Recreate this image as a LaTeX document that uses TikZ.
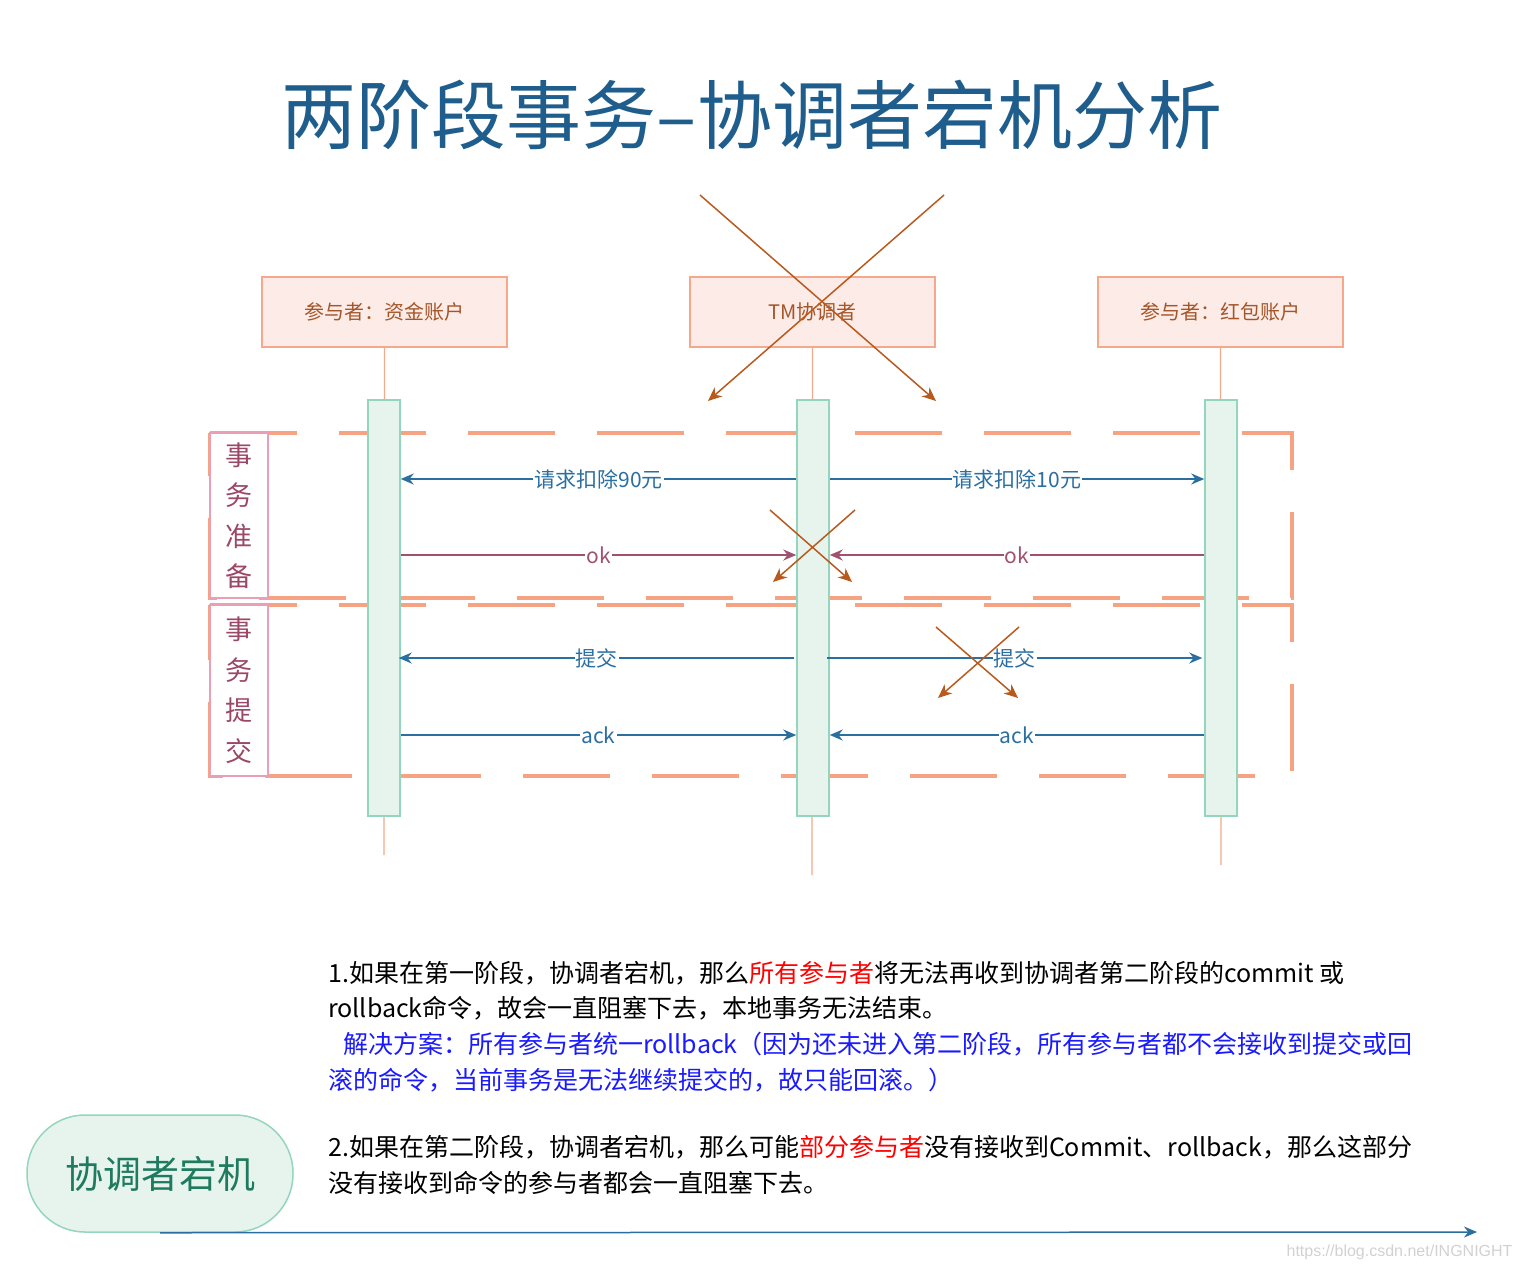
\documentclass[tikz,border=0pt]{standalone}
\usepackage{fontspec}
\setmainfont{Noto Sans CJK SC}
\newfontfamily\markfont{Liberation Sans}
\usetikzlibrary{arrows.meta}

\definecolor{titleblue}{RGB}{31,94,140}
\definecolor{actorfill}{RGB}{252,235,230}
\definecolor{actorline}{RGB}{245,169,140}
\definecolor{actortext}{RGB}{164,86,42}
\definecolor{barfill}{RGB}{231,244,238}
\definecolor{barline}{RGB}{148,214,189}
\definecolor{crosscol}{RGB}{184,90,30}
\definecolor{phasecol}{RGB}{245,163,131}
\definecolor{stageline}{RGB}{235,159,180}
\definecolor{stagetext}{RGB}{155,72,104}
\definecolor{msgblue}{RGB}{43,111,160}
\definecolor{okplum}{RGB}{160,81,111}
\definecolor{pilltext}{RGB}{31,123,95}
\definecolor{noteblue}{RGB}{26,26,255}

\tikzset{
  actor/.style={draw=actorline, fill=actorfill, line width=1.5pt, text=actortext,
    minimum width=245pt, minimum height=70pt, font=\fontsize{20}{24}\selectfont},
  life/.style={draw=actorline, line width=1.2pt},
  bar/.style={draw=barline, fill=barfill, line width=1.5pt,
    minimum width=32pt, minimum height=416pt, inner sep=0pt},
  phase/.style={draw=phasecol, line width=4pt, dash pattern=on 87pt off 42pt},
  stagebox/.style={draw=stageline, fill=white, line width=1.5pt, text=stagetext,
    minimum width=58pt, align=center, inner sep=0pt,
    font=\fontsize{27}{40.5}\selectfont},
  msg/.style={draw=msgblue, line width=1.5pt, -{Stealth[length=13pt,width=11pt]}},
  okmsg/.style={msg, draw=okplum},
  lbl/.style={fill=white, inner sep=1pt, font=\fontsize{21}{24}\selectfont},
  cross/.style={draw=crosscol, line width=1.5pt, -{Stealth[length=14pt,width=12pt]}},
  note/.style={anchor=west, inner sep=0pt, font=\fontsize{25}{30}\selectfont},
  pill/.style={draw=barline, fill=barfill, line width=1.5pt, text=pilltext,
    minimum width=266pt, minimum height=117pt, rounded corners=58pt,
    font=\fontsize{38}{44}\selectfont}
}

\begin{document}
\begin{tikzpicture}[x=1pt,y=-1pt]
\useasboundingbox (0,0) rectangle (1524,1270);

\node[text=titleblue, font=\fontsize{75}{80}\selectfont] (title) at (752,115) {两阶段事务–协调者宕机分析};

% phase frames
\draw[phase] (210,433) -- (1292,433) -- (1292,598) -- (210,598) -- cycle;
\draw[phase] (210,605) -- (1292,605) -- (1292,776) -- (210,776) -- cycle;

% participants and lifelines
\node[actor] (fund) at (384.5,312) {参与者：资金账户};
\node[actor] (tm) at (812.5,312) {TM协调者};
\node[actor] (red) at (1220.5,312) {参与者：红包账户};

\coordinate (fundend) at (384,855);
\coordinate (tmend) at (812,875);
\coordinate (redend) at (1221,865);
\draw[life] (fund.south) -- (fundend);
\draw[life] (tm.south) -- (tmend);
\draw[life] (red.south) -- (redend);

\node[bar] (fundbar) at (384,608) {};
\node[bar] (tmbar) at (813,608) {};
\node[bar] (redbar) at (1221,608) {};

% stage labels
\node[stagebox, minimum height=165pt] (prep) at (239,515.5) {事\\务\\准\\备};
\node[stagebox, minimum height=171pt] (commit) at (239,690.5) {事\\务\\提\\交};

% messages
\coordinate (r1) at (0,479);
\coordinate (r2) at (0,555);
\coordinate (r3) at (0,658);
\coordinate (r4) at (0,735);

\draw[msg] (tmbar.west |- r1) -- node[lbl, text=msgblue] {请求扣除90元} (fundbar.east |- r1);
\draw[msg] (tmbar.east |- r1) -- node[lbl, text=msgblue] {请求扣除10元} (redbar.west |- r1);
\draw[okmsg] (fundbar.east |- r2) -- node[lbl, text=okplum] {ok} (tmbar.west |- r2);
\draw[okmsg] (redbar.west |- r2) -- node[lbl, text=okplum] {ok} (tmbar.east |- r2);
\draw[msg] ([xshift=-2pt]tmbar.west |- r3) -- node[lbl, text=msgblue] {提交} ([xshift=-2pt]fundbar.east |- r3);
\draw[msg] ([xshift=-3pt]tmbar.east |- r3) -- node[lbl, text=msgblue] {提交} ([xshift=-2pt]redbar.west |- r3);
\draw[msg] (fundbar.east |- r4) -- node[lbl, text=msgblue] {ack} (tmbar.west |- r4);
\draw[msg] (redbar.west |- r4) -- node[lbl, text=msgblue] {ack} (tmbar.east |- r4);

% crosses
\coordinate (xa1) at (700,195);   \coordinate (xa2) at (936,401);
\coordinate (xb1) at (944,195);   \coordinate (xb2) at (708,401);
\draw[cross] (xa1) -- (xa2);
\draw[cross] (xb1) -- (xb2);

\coordinate (oa1) at (770,510);   \coordinate (oa2) at (852,582);
\coordinate (ob1) at (855,510);   \coordinate (ob2) at (773,582);
\draw[cross] (oa1) -- (oa2);
\draw[cross] (ob1) -- (ob2);

\coordinate (ca1) at (936,627);   \coordinate (ca2) at (1018,698);
\coordinate (cb1) at (1019,627);  \coordinate (cb2) at (938,698);
\draw[cross] (ca1) -- (ca2);
\draw[cross] (cb1) -- (cb2);

% notes
\node[note] (n1) at (328,973) {1.如果在第一阶段，协调者宕机，那么\textcolor{red}{所有参与者}将无法再收到协调者第二阶段的commit 或};
\node[note] (n2) at (328,1008) {rollback命令，故会一直阻塞下去，本地事务无法结束。};
\node[note, text=noteblue] (n3) at (343,1044) {解决方案：所有参与者统一rollback（因为还未进入第二阶段，所有参与者都不会接收到提交或回};
\node[note, text=noteblue] (n4) at (328,1080) {滚的命令，当前事务是无法继续提交的，故只能回滚。）};
\node[note] (n5) at (328,1147) {2.如果在第二阶段，协调者宕机，那么可能\textcolor{red}{部分参与者}没有接收到Commit、rollback，那么这部分};
\node[note] (n6) at (328,1183) {没有接收到命令的参与者都会一直阻塞下去。};

% timeline
\node[pill] (pill) at (160,1173.5) {协调者宕机};
\coordinate (axisend) at (1477,1232);
\draw[msg] (pill.south) -- (axisend);

\node[anchor=east, text=black!18, font=\markfont\fontsize{16}{18}\selectfont] (mark) at (1516,1252) {https://blog.csdn.net/INGNIGHT};
\end{tikzpicture}
\end{document}
